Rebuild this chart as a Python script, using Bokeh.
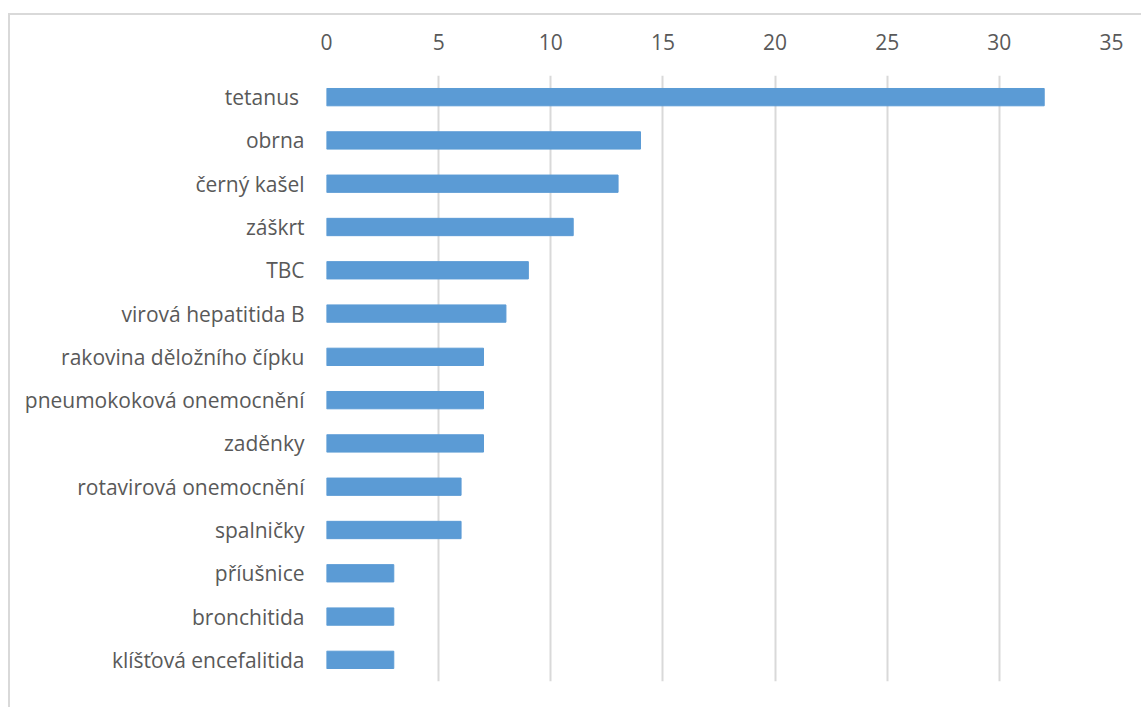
from bokeh.plotting import figure
from bokeh.models import FactorRange, Range1d, FixedTicker
from bokeh.embed import file_html
from bokeh.resources import INLINE

categories = ["tetanus ", "obrna", "černý kašel", "záškrt", "TBC", "virová hepatitida B",
              "rakovina děložního čípku", "pneumokoková onemocnění", "zaděnky",
              "rotavirová onemocnění", "spalničky", "příušnice", "bronchitida",
              "klíšťová encefalitida"]
values = [32, 14, 13, 11, 9, 8, 7, 7, 7, 6, 6, 3, 3, 3]
x_ticks = [0, 5, 10, 15, 20, 25, 30, 35]

FONT = "Open Sans"
TEXT = "#595959"

p = figure(width=1133, height=694, output_backend="svg", toolbar_location=None,
           y_range=FactorRange(*reversed(categories), range_padding=0),
           x_range=Range1d(0, 35), x_axis_location="above",
           min_border_left=316, min_border_right=32, min_border_top=60,
           min_border_bottom=28)
p.margin = (13, 0, 0, 8)
p.styles = {"border-left": "2px solid #d9d9d9", "border-top": "2px solid #d9d9d9",
            "box-sizing": "border-box"}

p.hbar(y=categories, right=values, left=0, height=0.4, color="#5b9bd5")

p.outline_line_color = None
p.ygrid.grid_line_color = None
p.xgrid.grid_line_color = "#d9d9d9"
p.xgrid.grid_line_width = 2
p.xaxis.ticker = FixedTicker(ticks=x_ticks)
p.xaxis.axis_line_color = None
p.xaxis.major_tick_line_color = None
p.xaxis.minor_tick_line_color = None
p.xaxis.major_label_standoff = 20
p.yaxis.axis_line_color = None
p.yaxis.major_tick_line_color = None
p.yaxis.major_label_standoff = 16
for ax in (p.xaxis, p.yaxis):
    ax.major_label_text_font = FONT
    ax.major_label_text_font_size = "21px"
    ax.major_label_text_color = TEXT

open("out.html", "w").write(file_html(p, INLINE))
